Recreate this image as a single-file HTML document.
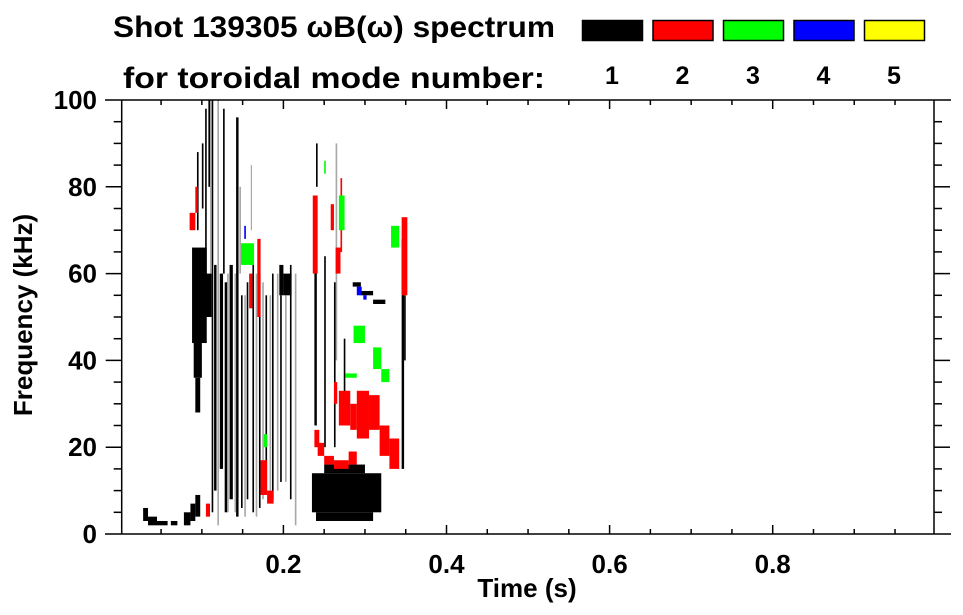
<!DOCTYPE html>
<html><head><meta charset="utf-8"><style>
body{margin:0;background:#fff;}
svg{display:block;font-family:"Liberation Sans",sans-serif;font-weight:bold;}
</style></head><body>
<svg id="chart" width="963" height="615" viewBox="0 0 963 615">
<text x="113" y="37" font-size="30" textLength="442" lengthAdjust="spacingAndGlyphs">Shot 139305 ωB(ω) spectrum</text>
<text x="123" y="88" font-size="30" textLength="422" lengthAdjust="spacingAndGlyphs">for toroidal mode number:</text>
<g id="legend"></g>
<g id="marks"></g>
<g id="axes"></g>
<text x="527" y="597" font-size="26" text-anchor="middle">Time (s)</text>
<text transform="translate(32,315) rotate(-90)" font-size="26" text-anchor="middle">Frequency (kHz)</text>
</svg>
<script>
const legendModes = ["1","2","3","4","5"];
const legendColors = ["#000000","#ff0000","#00ff00","#0000ff","#ffff00"];
const xTicks = [0.2,0.4,0.6,0.8];
const yTicks = [0,20,40,60,80,100];
// cells: [tStart, tEnd, fLow, fHigh]
const weakCells = [[0.119,0.121,2,100],[0.131,0.133,5,60],[0.140,0.142,5,60],[0.152,0.154,4,55],[0.166,0.168,4,60],[0.174,0.176,8,58],[0.183,0.185,10,55],[0.192,0.194,10,60],[0.202,0.204,12,55],[0.214,0.216,2,60],[0.146,0.148,60,80],[0.110,0.111,60,100],[0.160,0.161,70,85],[0.264,0.266,40,90]];
const mode1Cells = [[0.028,0.034,3,6],[0.034,0.045,2,4],[0.045,0.058,2,3],[0.062,0.070,2,3],[0.078,0.086,2,5],[0.086,0.092,3,7],[0.092,0.098,4,9],
[0.088,0.106,44,66],[0.090,0.100,36,46],[0.092,0.098,28,36],[0.100,0.112,50,60],
[0.094,0.096,70,88],[0.100,0.102,75,90],[0.104,0.106,60,98],[0.108,0.110,80,100],[0.112,0.114,5,100],[0.126,0.128,60,98],
[0.115,0.118,10,62],[0.122,0.126,15,60],[0.128,0.131,5,58],[0.134,0.138,8,62],[0.142,0.145,4,96],[0.148,0.150,6,55],[0.155,0.157,8,58],[0.162,0.164,5,62],[0.170,0.172,6,60],[0.178,0.180,10,55],[0.186,0.188,8,60],[0.196,0.198,12,55],[0.208,0.210,8,62],
[0.195,0.200,55,62],[0.200,0.210,55,60],
[0.235,0.320,5,14],[0.240,0.310,3,5],[0.250,0.300,14,16],
[0.238,0.241,25,68],[0.250,0.252,20,64],[0.262,0.264,20,58],[0.274,0.276,25,45],[0.345,0.348,15,68],[0.348,0.350,40,55],[0.240,0.242,80,90],
[0.285,0.295,57,58],[0.295,0.310,55,56],[0.310,0.325,53,54]];
const mode2Cells = [[0.236,0.242,60,78],[0.238,0.244,20,24],[0.242,0.250,18,21],[0.250,0.262,16,18],[0.262,0.280,15,17],[0.280,0.290,16,19],
[0.268,0.282,25,33],[0.282,0.290,24,30],[0.290,0.305,22,33],[0.305,0.318,24,32],[0.318,0.330,18,25],[0.330,0.342,15,22],
[0.345,0.352,55,73],[0.258,0.262,70,76],[0.264,0.270,60,66],[0.270,0.272,65,82],
[0.172,0.180,9,17],[0.180,0.188,7,10],[0.168,0.172,50,68],[0.158,0.162,52,60],
[0.085,0.092,70,74],[0.092,0.095,74,80],[0.105,0.110,4,7],[0.262,0.266,30,35]];
const mode3Cells = [[0.148,0.164,62,67],[0.268,0.275,70,78],[0.286,0.300,44,48],[0.332,0.342,66,71],[0.276,0.290,36,37],[0.310,0.320,38,43],[0.320,0.330,35,38],[0.176,0.180,20,23],[0.250,0.252,83,86]];
const mode4Cells = [[0.152,0.154,68,71],[0.290,0.296,55,57],[0.298,0.302,54,55]];

const X0=121.7, X1=934, Y0=534, Y1=100;
const xs = t => 120.3 + t*815.5;
const ys = f => Y0 - f*(Y0-Y1)/100;
const NS="http://www.w3.org/2000/svg";
function mk(tag, attrs, parent){const e=document.createElementNS(NS,tag);for(const k in attrs)e.setAttribute(k,attrs[k]);parent.appendChild(e);return e;}

const leg=document.getElementById('legend');
legendModes.forEach((m,i)=>{
  const bx=582+i*70.5;
  const r=mk('rect',{x:bx+0.5,y:20.5,width:60,height:20,fill:legendColors[i],stroke:'#000','stroke-width':1.5},leg);
  
  
  const t=mk('text',{x:bx+30,y:84,'font-size':25,'text-anchor':'middle'},leg);
  t.textContent=m;
  
  
});

const marks=document.getElementById('marks');
const series=[[weakCells,'#a8a8a8','weak'],[mode1Cells,'#000','mode-1'],[mode2Cells,'#ff0000','mode-2'],[mode3Cells,'#00ff00','mode-3'],[mode4Cells,'#0000ff','mode-4']];
series.forEach(([cells,col,nm])=>{
  cells.forEach(c=>{
    const x=xs(c[0]), w=Math.max(1.2,xs(c[1])-xs(c[0]));
    const y=ys(c[3]), h=Math.max(1.2,ys(c[2])-ys(c[3]));
    const r=mk('rect',{x:x,y:y,width:w,height:h,fill:col},marks);
    
    
  });
});

const ax=document.getElementById('axes');
const st={stroke:'#000','stroke-width':1.5};
mk('line',Object.assign({x1:105,y1:Y1,x2:951,y2:Y1},st),ax);
mk('line',Object.assign({x1:105,y1:Y0,x2:951,y2:Y0},st),ax);
mk('line',Object.assign({x1:X0,y1:Y1,x2:X0,y2:Y0},st),ax);
mk('line',Object.assign({x1:X1,y1:Y1,x2:X1,y2:Y0},st),ax);
for(let i=1;i<20;i++){
  const t=i*0.05, x=xs(t), L=(i%4===0)?9:5;
  mk('line',Object.assign({x1:x,y1:Y0,x2:x,y2:Y0-L},st),ax);
  mk('line',Object.assign({x1:x,y1:Y1,x2:x,y2:Y1+L},st),ax);
}
for(let i=1;i<20;i++){
  const f=i*5, y=ys(f), L=(i%4===0)?16:8;
  mk('line',Object.assign({x1:X0-L,y1:y,x2:X0,y2:y},st),ax);
  mk('line',Object.assign({x1:X1,y1:y,x2:X1+L,y2:y},st),ax);
}
xTicks.forEach(v=>{
  const t=mk('text',{x:xs(v),y:573,'font-size':26,'text-anchor':'middle'},ax);
  t.textContent=v.toFixed(1);
  
  
});
yTicks.forEach(v=>{
  const t=mk('text',{x:97,y:ys(v)+9,'font-size':26,'text-anchor':'end'},ax);
  t.textContent=String(v);
  
  
});
</script>
</body></html>
